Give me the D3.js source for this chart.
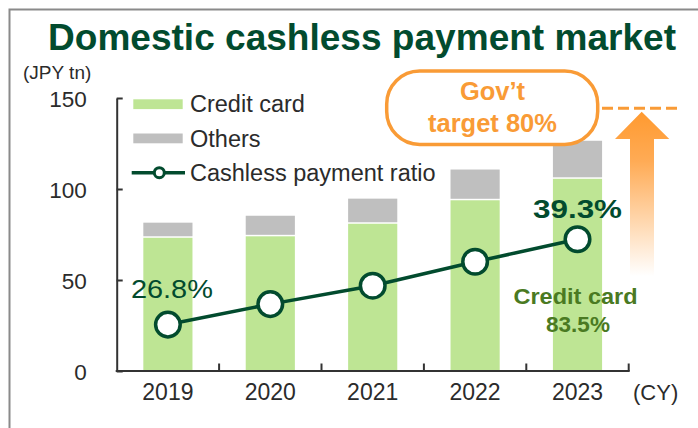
<!DOCTYPE html>
<html>
<head>
<meta charset="utf-8">
<script src="https://cdn.jsdelivr.net/npm/d3@7/dist/d3.min.js"></script>
<style>
  html, body { margin: 0; padding: 0; background: #ffffff; }
  svg { display: block; font-family: "Liberation Sans", Arial, sans-serif; }
</style>
</head>
<body>
<svg id="chart" width="698" height="428"></svg>
<script>
// Cashless payment market in Japan (trillion yen) and cashless ratio
const years = ["2019", "2020", "2021", "2022", "2023"];
const creditCard = [73.2, 74.0, 80.9, 93.8, 105.6];
const others = [8.3, 11.3, 13.8, 16.9, 20.9];
const cashlessRatio = [26.8, 29.8, 32.5, 36.0, 39.3];
const yTicks = [0, 50, 100, 150];
const ratioLabels = [{ i: 0, text: "26.8%", bold: false }, { i: 4, text: "39.3%", bold: true }];

const svg = d3.select("#chart");
const DARK = "#024b2e";
const GREEN = "#bee594";
const GREY = "#bfbfbf";
const ORANGE = "#f99b36";
const TEXT = "#2b2b2b";

const plot = { left: 116.7, right: 628.7, top: 98, bottom: 371 };

const x = d3.scaleBand().domain(years).range([plot.left, plot.right]).paddingInner(0.52).paddingOuter(0.26);
const xBand = d3.scaleBand().domain(years).range([plot.left, plot.right]);
const y = d3.scaleLinear().domain([0, 150]).range([plot.bottom, plot.top]);
const yRatio = d3.scaleLinear().domain([20, 60]).range([plot.bottom, plot.top]);

// outer frame
svg.append("rect")
  .attr("x", 9.5).attr("y", 9.5).attr("width", 720).attr("height", 440)
  .attr("fill", "none").attr("stroke", "#8a8a8a").attr("stroke-width", 2);

// title
svg.append("text")
  .attr("x", 362).attr("y", 50).attr("text-anchor", "middle")
  .attr("font-size", 37).attr("font-weight", "bold").attr("fill", DARK)
  .attr("textLength", 628).attr("lengthAdjust", "spacingAndGlyphs")
  .text("Domestic cashless payment market");

svg.append("text")
  .attr("x", 23).attr("y", 79).attr("font-size", 19).attr("fill", TEXT)
  .text("(JPY tn)");

// bars
const bars = svg.append("g");
years.forEach((yr, i) => {
  const bx = x(yr), bw = x.bandwidth();
  bars.append("rect")
    .attr("x", bx).attr("width", bw)
    .attr("y", y(creditCard[i])).attr("height", y(0) - y(creditCard[i]))
    .attr("fill", GREEN);
  bars.append("rect")
    .attr("x", bx).attr("width", bw)
    .attr("y", y(creditCard[i] + others[i])).attr("height", y(creditCard[i]) - y(creditCard[i] + others[i]) - 1.5)
    .attr("fill", GREY);
});

// y axis
const yAxis = d3.axisLeft(y).tickValues(yTicks).tickSize(-6).tickPadding(30).tickSizeOuter(0);
const gy = svg.append("g").attr("transform", `translate(${plot.left},0)`).call(yAxis);
gy.select(".domain").attr("stroke", "#333").attr("stroke-width", 2);
gy.selectAll(".tick line").attr("stroke", "#333").attr("stroke-width", 2);
gy.selectAll(".tick text").attr("font-size", 22.5).attr("fill", TEXT)
  .attr("font-family", "Liberation Sans, Arial, sans-serif").attr("dy", "0.36em");

// x axis: boundary ticks between years
const gx = svg.append("g").attr("transform", `translate(0,${plot.bottom})`);
gx.append("line").attr("x1", plot.left - 1).attr("x2", plot.right + 1)
  .attr("stroke", "#333").attr("stroke-width", 2.2);
const bounds = years.map(yr => xBand(yr) + xBand.bandwidth());
gx.selectAll("line.b").data(bounds).enter().append("line").attr("class", "b")
  .attr("x1", d => d).attr("x2", d => d).attr("y1", 0).attr("y2", -7.5)
  .attr("stroke", "#333").attr("stroke-width", 2);
gx.selectAll("text.yr").data(years).enter().append("text").attr("class", "yr")
  .attr("x", d => xBand(d) + xBand.bandwidth() / 2).attr("y", 29)
  .attr("text-anchor", "middle").attr("font-size", 23).attr("fill", TEXT)
  .text(d => d);
svg.append("text").attr("x", 633).attr("y", 400).attr("font-size", 22).attr("fill", TEXT).text("(CY)");

// ratio line
const cx = i => xBand(years[i]) + xBand.bandwidth() / 2;
const line = d3.line().x((d, i) => cx(i)).y(d => yRatio(d));
svg.append("path").datum(cashlessRatio).attr("d", line)
  .attr("fill", "none").attr("stroke", DARK).attr("stroke-width", 3.5);
svg.selectAll("circle.pt").data(cashlessRatio).enter().append("circle").attr("class", "pt")
  .attr("cx", (d, i) => cx(i)).attr("cy", d => yRatio(d)).attr("r", 12.3)
  .attr("fill", "#fff").attr("stroke", DARK).attr("stroke-width", 3.5);

ratioLabels.forEach(l => {
  svg.append("text")
    .attr("x", cx(l.i) + (l.bold ? 0 : 4)).attr("y", yRatio(cashlessRatio[l.i]) - (l.bold ? 21.6 : 27))
    .attr("text-anchor", "middle")
    .attr("font-size", l.bold ? 26.5 : 25.5).attr("font-weight", l.bold ? "bold" : "normal")
    .attr("fill", DARK)
    .attr("textLength", l.bold ? 89 : 82).attr("lengthAdjust", "spacingAndGlyphs")
    .text(l.text);
});

// credit card share annotation
const share = svg.append("g").attr("fill", "#4a7a22").attr("font-weight", "bold").attr("text-anchor", "middle");
share.append("text").attr("x", 575.5).attr("y", 303.5).attr("font-size", 22.5).attr("textLength", 124).attr("lengthAdjust", "spacingAndGlyphs").text("Credit card");
share.append("text").attr("x", 578).attr("y", 331.5).attr("font-size", 22.5).text("83.5%");

// legend
const lg = svg.append("g");
lg.append("rect").attr("x", 133.3).attr("y", 99.3).attr("width", 49.4).attr("height", 9.8).attr("fill", GREEN);
lg.append("rect").attr("x", 133.3).attr("y", 133.5).attr("width", 49.4).attr("height", 9.8).attr("fill", GREY);
lg.append("line").attr("x1", 131.7).attr("x2", 185).attr("y1", 172.7).attr("y2", 172.7)
  .attr("stroke", DARK).attr("stroke-width", 3.5);
lg.append("circle").attr("cx", 159.3).attr("cy", 172.7).attr("r", 5)
  .attr("fill", "#fff").attr("stroke", DARK).attr("stroke-width", 3);
const legendText = ["Credit card", "Others", "Cashless payment ratio"];
const legendY = [111.7, 146.5, 180.5];
legendText.forEach((t, i) => {
  lg.append("text").attr("x", 190).attr("y", legendY[i]).attr("font-size", 23.5).attr("fill", TEXT).text(t);
});

// government target callout
const defs = svg.append("defs");
const grad = defs.append("linearGradient").attr("id", "arrowFade")
  .attr("gradientUnits", "userSpaceOnUse").attr("x1", 0).attr("y1", 112).attr("x2", 0).attr("y2", 276);
grad.append("stop").attr("offset", 0).attr("stop-color", "#ff9a30");
grad.append("stop").attr("offset", 0.3).attr("stop-color", "#ffab55");
grad.append("stop").attr("offset", 1).attr("stop-color", "#ffffff");

svg.append("path")
  .attr("d", "M641.7,111.7 L669.3,139 L654,139 L654,276 L630,276 L630,139 L615,139 Z")
  .attr("fill", "url(#arrowFade)");

svg.append("line").attr("x1", 602).attr("x2", 677).attr("y1", 108.3).attr("y2", 108.3)
  .attr("stroke", ORANGE).attr("stroke-width", 3).attr("stroke-dasharray", "11,5");

svg.append("rect").attr("x", 386.7).attr("y", 71).attr("width", 211).attr("height", 73.5).attr("rx", 33)
  .attr("fill", "#fff").attr("stroke", ORANGE).attr("stroke-width", 3.5);
const gt = svg.append("g").attr("fill", ORANGE).attr("font-weight", "bold").attr("text-anchor", "middle").attr("font-size", 25.5);
gt.append("text").attr("x", 492.5).attr("y", 99.5).text("Gov’t");
gt.append("text").attr("x", 492.5).attr("y", 131.7).text("target 80%");
</script>
</body>
</html>
